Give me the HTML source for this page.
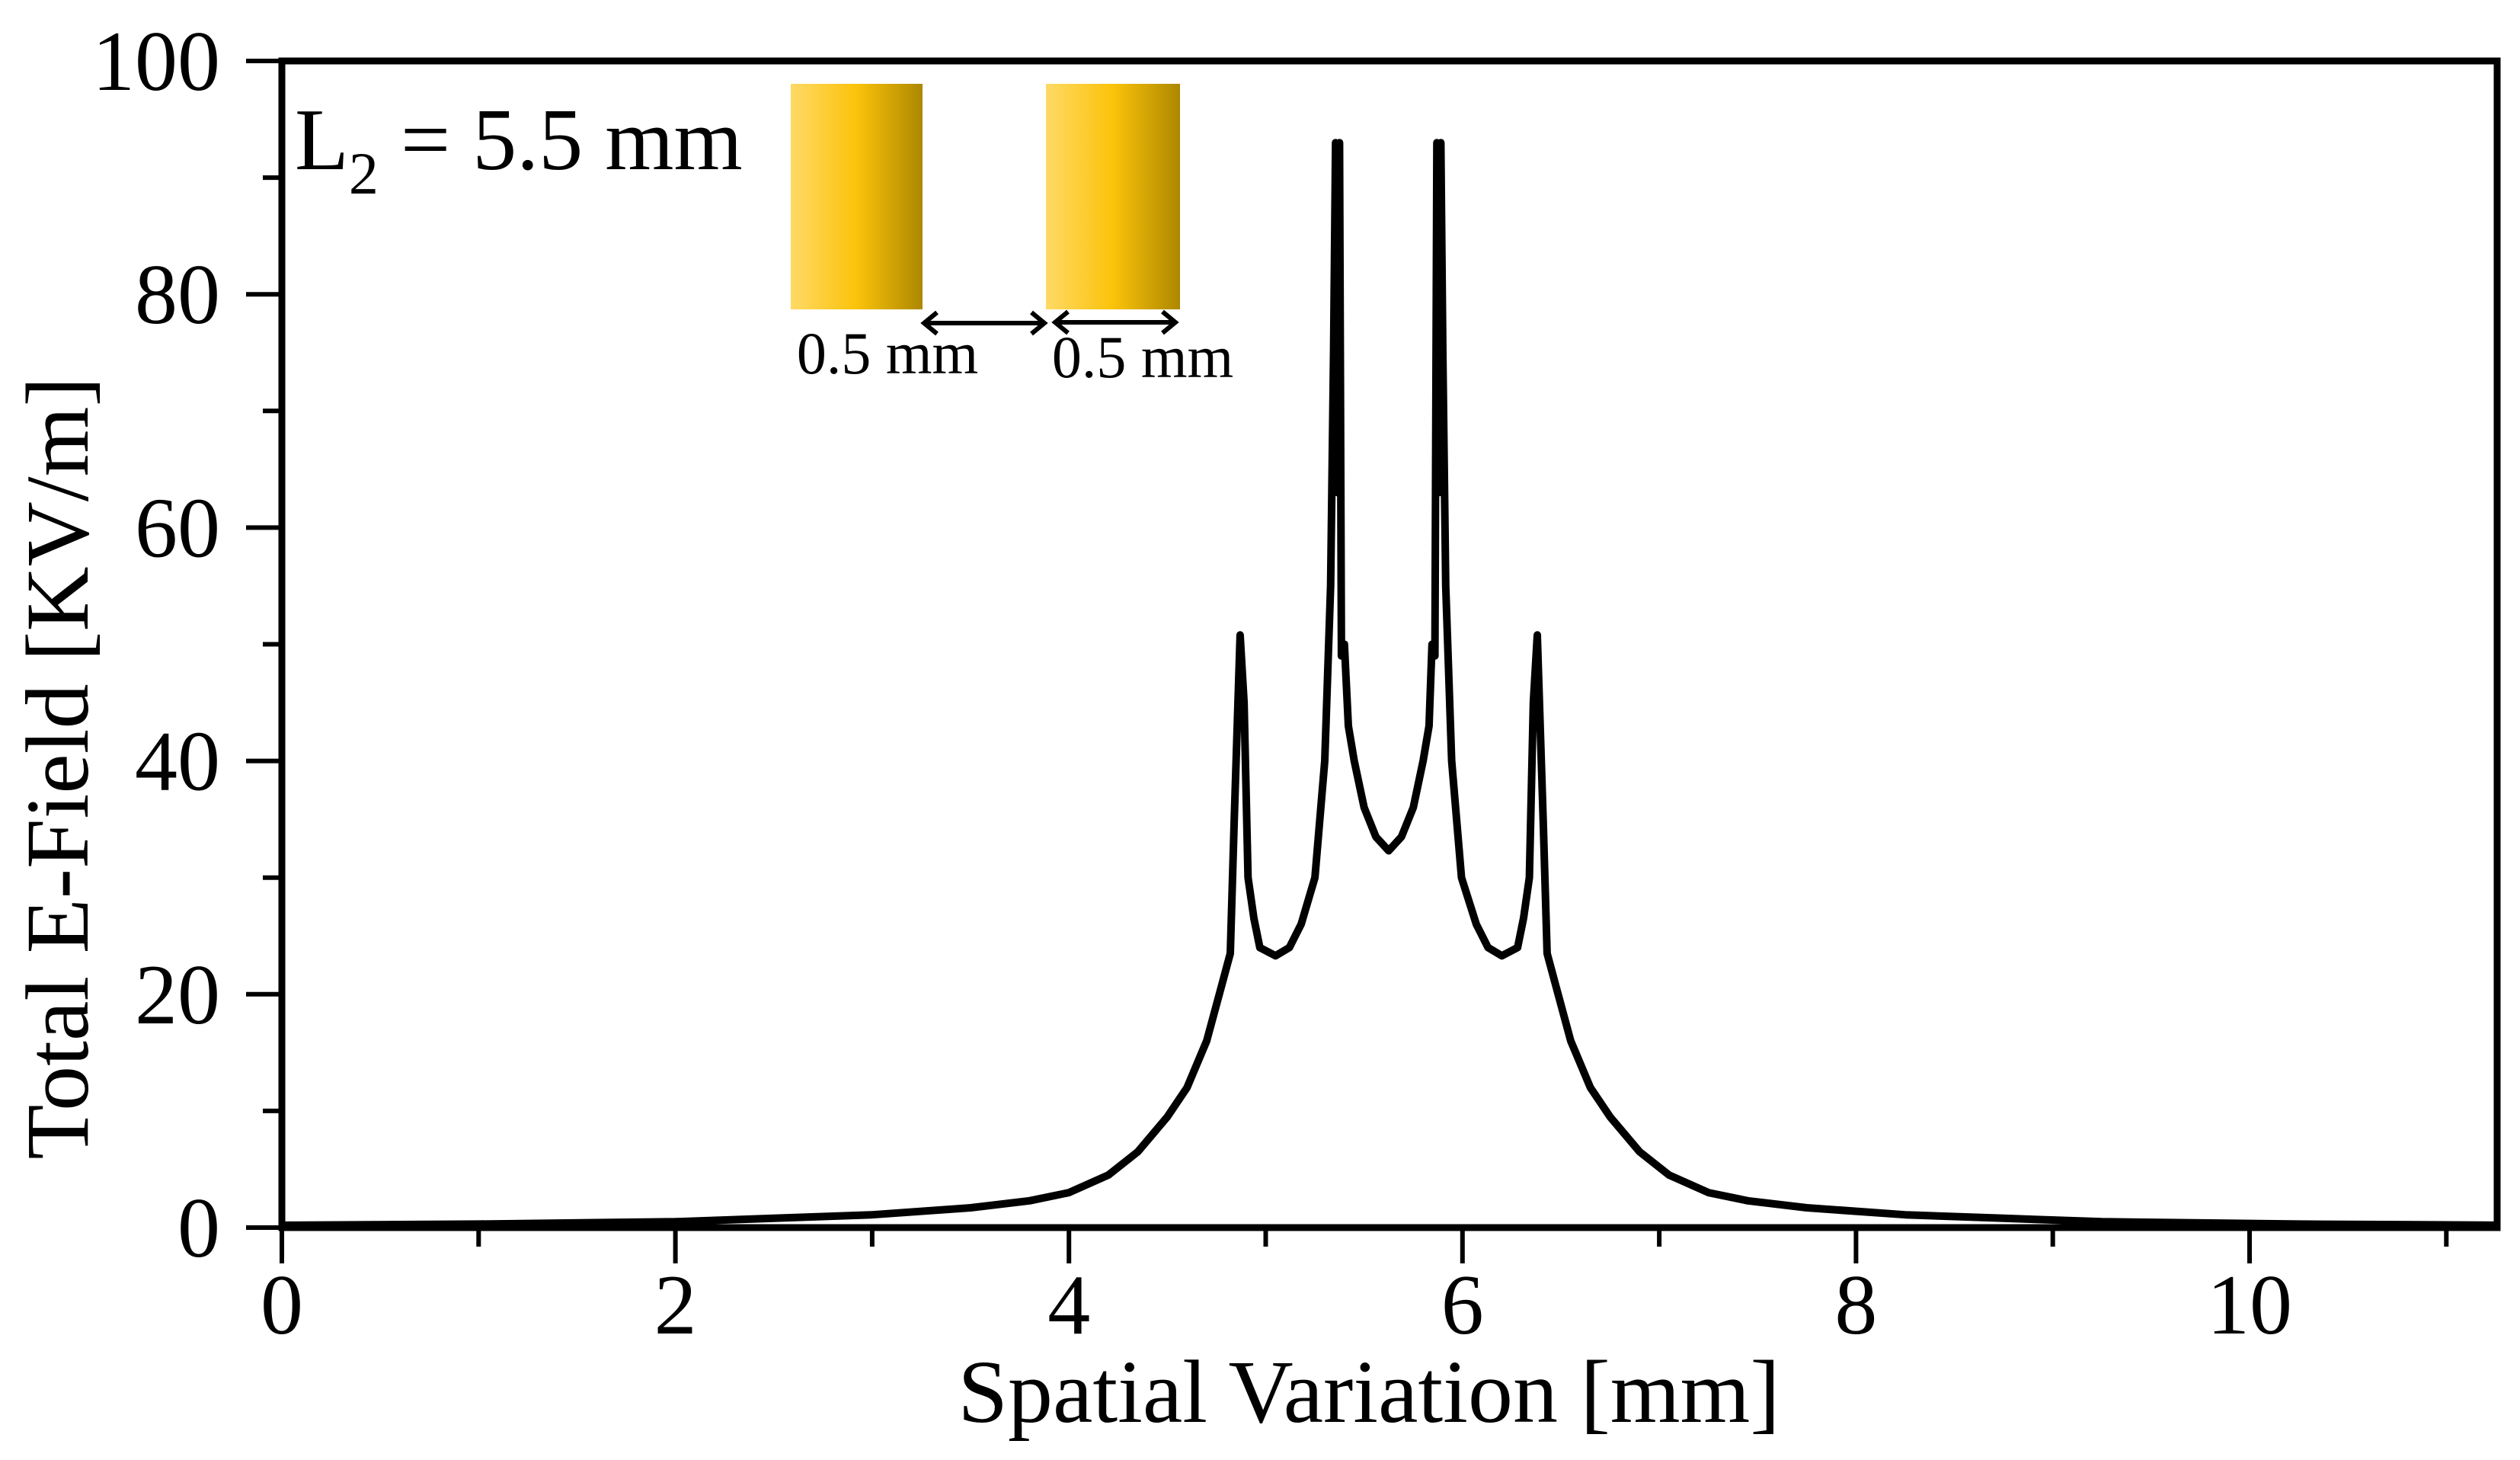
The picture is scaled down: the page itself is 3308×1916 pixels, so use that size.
<!DOCTYPE html>
<html><head><meta charset="utf-8"><style>
html,body{margin:0;padding:0;background:#fff}
svg{display:block}
text{font-family:"Liberation Serif",serif;fill:#000}
</style></head><body>
<svg id="chart" width="3308" height="1916" viewBox="0 0 3308 1916" xmlns="http://www.w3.org/2000/svg">
<defs>
<linearGradient id="gold" x1="0" x2="1" y1="0" y2="0">
<stop offset="0" stop-color="#ffd966"/>
<stop offset="0.5" stop-color="#fbc30a"/>
<stop offset="1" stop-color="#ad8700"/>
</linearGradient>
</defs>
<g id="ticks"></g>
<path id="curve" fill="none" stroke="#000" stroke-width="10" stroke-linejoin="round"/>
<rect x="370" y="80" width="2908" height="1531" fill="none" stroke="#000" stroke-width="9"/>
<text x="387" y="222" font-size="116">L<tspan font-size="78" dy="32">2</tspan><tspan dy="-32"> = 5.5 mm</tspan></text>
<g>
<rect x="1038" y="110" width="173" height="296" fill="url(#gold)"/>
<rect x="1373" y="110" width="176" height="296" fill="url(#gold)"/>
<g stroke="#000" stroke-width="6" fill="none">
<line x1="1215" y1="424" x2="1369" y2="424"/><path d="M1230 410 L1213 424 L1230 438 M1354 410 L1371 424 L1354 438"/>
</g>
<g stroke="#000" stroke-width="6" fill="none">
<line x1="1387" y1="423" x2="1541" y2="423"/><path d="M1402 409 L1385 423 L1402 437 M1526 409 L1543 423 L1526 437"/>
</g>
<text x="1165" y="490" font-size="78" text-anchor="middle">0.5 mm</text>
<text x="1500" y="495" font-size="78" text-anchor="middle">0.5 mm</text>
</g>
<g id="labels"></g>
<text x="1797" y="1866" font-size="118" text-anchor="middle">Spatial Variation [mm]</text>
<text transform="translate(115,1008) rotate(-90)" font-size="118" text-anchor="middle">Total E-Field [KV/m]</text>
</svg>
<script>
const xValues = [0,1,2,2.5,3,3.5,3.8,4.0,4.2,4.35,4.5,4.6,4.7,4.78,4.82,4.84,4.87,4.89,4.91,4.94,4.97,5.05,5.12,5.18,5.25,5.30,5.33,5.345,5.355,5.365,5.375,5.385,5.40,5.42,5.45,5.5,5.56,
5.625,
5.69,5.75,5.80,5.83,5.845,5.86,5.87,5.88,5.89,5.90,5.915,5.945,5.995,6.07,6.13,6.20,6.28,6.31,6.34,6.36,6.38,6.41,6.43,6.47,6.55,6.65,6.75,6.90,7.05,7.25,7.45,7.75,8.25,8.75,9.25,10.25,11.26];
const fieldValues = [0.2,0.3,0.5,0.8,1.1,1.7,2.3,3.0,4.5,6.5,9.5,12,16,21,23.5,35,50.8,45,30,26.5,24,23.3,24,26,30,40,55,75,93,63,93,49,50,43,40,36,33.5,
32.3,
33.5,36,40,43,50,49,93,63,93,75,55,40,30,26,24,23.3,24,26.5,30,45,50.8,35,23.5,21,16,12,9.5,6.5,4.5,3.0,2.3,1.7,1.1,0.8,0.5,0.3,0.2];
const xTicks = [0,2,4,6,8,10];
const xMinor = [1,3,5,7,9,11];
const yTicks = [0,20,40,60,80,100];
const yMinor = [10,30,50,70,90];

const X0=370, XS=258.3, Y0=1611, YS=15.31;
function sx(v){return X0+v*XS;}
function sy(v){return Y0-v*YS;}
const NS="http://www.w3.org/2000/svg";
let d="";
for(let i=0;i<xValues.length;i++){d+=(i?"L":"M")+sx(xValues[i]).toFixed(1)+" "+sy(fieldValues[i]).toFixed(1);}
document.getElementById('curve').setAttribute('d',d);
const tg=document.getElementById('ticks'), lg=document.getElementById('labels');
function line(x1,y1,x2,y2,name){const l=document.createElementNS(NS,'line');
l.setAttribute('x1',x1);l.setAttribute('y1',y1);l.setAttribute('x2',x2);l.setAttribute('y2',y2);
l.setAttribute('stroke','#000');l.setAttribute('stroke-width','6');


tg.appendChild(l);}
function label(x,y,s,anchor,name){const t=document.createElementNS(NS,'text');
t.setAttribute('x',x);t.setAttribute('y',y);t.setAttribute('font-size','112');t.setAttribute('text-anchor',anchor);t.textContent=s;


lg.appendChild(t);}
xTicks.forEach(v=>{line(sx(v),Y0,sx(v),Y0+47,'x-major-tick');label(sx(v),1750,String(v),'middle','x-tick-label');});
xMinor.forEach(v=>line(sx(v),Y0,sx(v),Y0+25,'x-minor-tick'));
yTicks.forEach(v=>{line(X0-47,sy(v),X0,sy(v),'y-major-tick');label(289,sy(v)+38,String(v),'end','y-tick-label');});
yMinor.forEach(v=>line(X0-25,sy(v),X0,sy(v),'y-minor-tick'));
</script>
</body></html>
